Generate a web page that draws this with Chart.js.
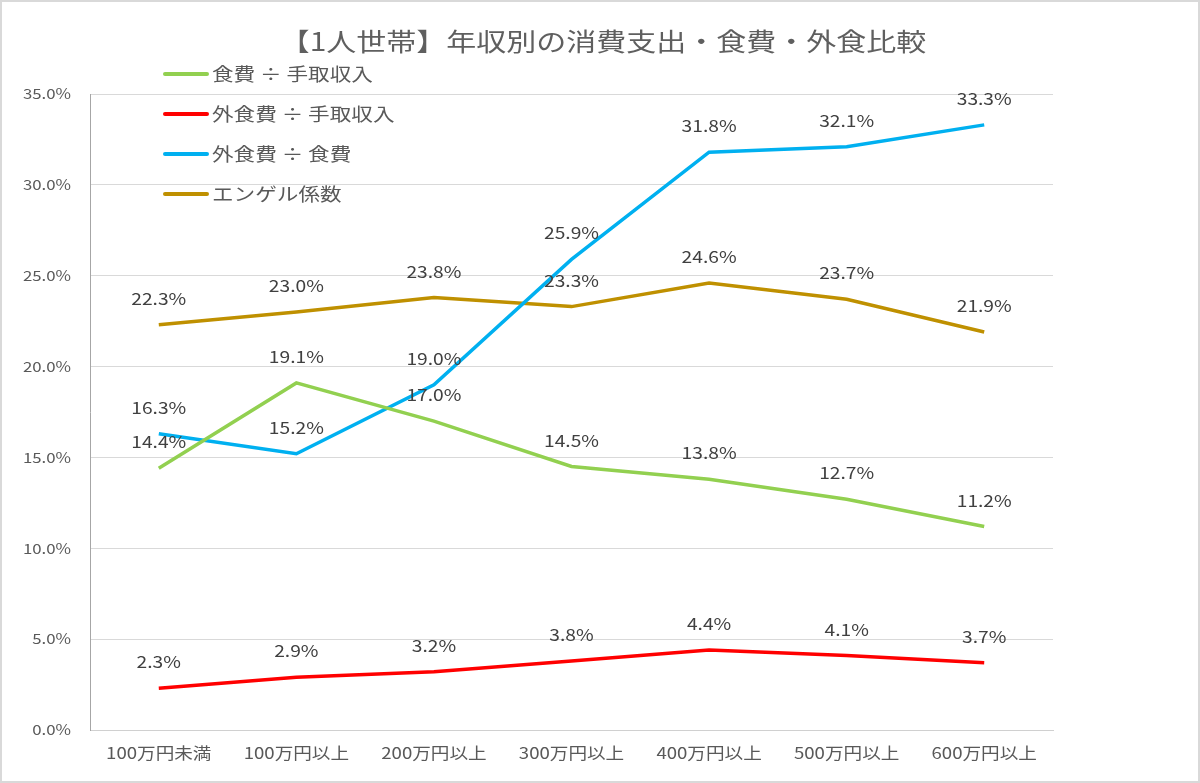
<!DOCTYPE html>
<html>
<head>
<meta charset="utf-8">
<script src="https://cdn.jsdelivr.net/npm/chart.js@4/dist/chart.umd.min.js"></script>
<style>
  body { margin: 0; background: #fff; }
  canvas { display: block; }
</style>
</head>
<body>
<canvas id="myChart" width="1200" height="783"></canvas>
<script>
const titleText = "【1人世帯】年収別の消費支出・食費・外食比較";
const categories = ["100万円未満", "100万円以上", "200万円以上", "300万円以上", "400万円以上", "500万円以上", "600万円以上"];
const seriesNames = ["食費 ÷ 手取収入", "外食費 ÷ 手取収入", "外食費 ÷ 食費", "エンゲル係数"];
const foodRatio = [14.4, 19.1, 17.0, 14.5, 13.8, 12.7, 11.2];
const eatOutIncome = [2.3, 2.9, 3.2, 3.8, 4.4, 4.1, 3.7];
const eatOutFood = [16.3, 15.2, 19.0, 25.9, 31.8, 32.1, 33.3];
const engel = [22.3, 23.0, 23.8, 23.3, 24.6, 23.7, 21.9];
const colors = ["#92D050", "#FF0000", "#00B0F0", "#BF9000"];

const FONT = "'Noto Sans CJK JP', 'Noto Sans', sans-serif";
const STRETCH = 1.2; // reference text is drawn wide

function wideText(ctx, text, x, y, align, size, color) {
  ctx.save();
  ctx.translate(x, y);
  ctx.scale(STRETCH, 1);
  ctx.font = size + "px " + FONT;
  ctx.fillStyle = color;
  ctx.textAlign = align;
  ctx.textBaseline = "middle";
  ctx.fillText(text, 0, 0);
  ctx.restore();
}

// frame, title, legend, tick labels and value labels
const extras = {
  id: "extras",
  beforeDraw(chart) {
    const ctx = chart.ctx;
    ctx.save();
    ctx.fillStyle = "#fff";
    ctx.fillRect(0, 0, chart.width, chart.height);
    ctx.strokeStyle = "#d9d9d9";
    ctx.lineWidth = 2;
    ctx.strokeRect(1, 1, chart.width - 2, chart.height - 2);
    ctx.restore();
  },
  afterDatasetsDraw(chart) {
    const ctx = chart.ctx;
    chart.data.datasets.forEach((ds, i) => {
      chart.getDatasetMeta(i).data.forEach((pt, j) => {
        wideText(ctx, ds.data[j].toFixed(1) + "%", pt.x, pt.y - 26, "center", 16, "#404040");
      });
    });
  },
  afterDraw(chart) {
    const ctx = chart.ctx;
    wideText(ctx, titleText, 603, 41, "center", 25, "#5f5f5f");

    const ys = chart.scales.y;
    ys.ticks.forEach((t, i) => {
      wideText(ctx, t.value.toFixed(1) + "%", 71, ys.getPixelForTick(i), "right", 14, "#595959");
    });
    const xs = chart.scales.x;
    categories.forEach((c, i) => {
      wideText(ctx, c, xs.getPixelForTick(i), 753, "center", 15.5, "#595959");
    });

    chart.data.datasets.forEach((ds, i) => {
      const y = 74 + i * 40;
      ctx.save();
      ctx.strokeStyle = ds.borderColor;
      ctx.lineWidth = 4;
      ctx.lineCap = "round";
      ctx.beginPath();
      ctx.moveTo(165, y);
      ctx.lineTo(207, y);
      ctx.stroke();
      ctx.restore();
      wideText(ctx, ds.label, 212, y, "left", 18, "#595959");
    });
  }
};

new Chart(document.getElementById("myChart").getContext("2d"), {
  type: "line",
  data: {
    labels: categories,
    datasets: [foodRatio, eatOutIncome, eatOutFood, engel].map((d, i) => ({
      label: seriesNames[i],
      data: d,
      borderColor: colors[i],
      backgroundColor: colors[i],
      borderWidth: 3.5,
      pointRadius: 0,
      fill: false,
      tension: 0
    }))
  },
  options: {
    responsive: false,
    animation: false,
    layout: { padding: { top: 94, right: 147, left: 0, bottom: 0 } },
    plugins: {
      legend: { display: false },
      tooltip: { enabled: false },
      title: { display: false }
    },
    scales: {
      x: {
        offset: true,
        grid: { display: false, drawTicks: false },
        border: { color: "#d0d0d0", width: 1 },
        ticks: { display: false },
        afterFit(scale) { scale.height = 53; }
      },
      y: {
        min: 0,
        max: 35,
        ticks: { stepSize: 5, display: false },
        grid: { color: "#d9d9d9", drawTicks: false },
        border: { color: "#a6a6a6", width: 1 },
        afterFit(scale) { scale.width = 90; }
      }
    }
  },
  plugins: [extras]
});
</script>
</body>
</html>
